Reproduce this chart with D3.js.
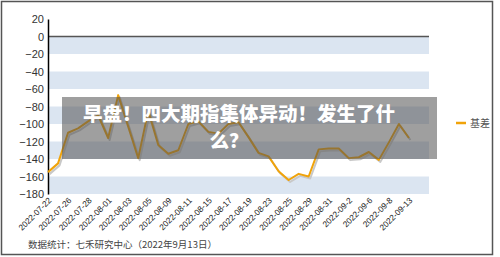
<!DOCTYPE html>
<html lang="zh">
<head>
<meta charset="UTF-8">
<title>基差</title>
<script src="https://d3js.org/d3.v7.min.js"></script>
<style>
  body { margin: 0; background: #fff; }
  svg { display: block; }
</style>
</head>
<body>
<div id="chart"></div>
<script>
// trading days, 2022-07-22 .. 2022-09-13
const dates = ["2022-07-22","2022-07-25","2022-07-26","2022-07-27","2022-07-28","2022-07-29",
  "2022-08-01","2022-08-02","2022-08-03","2022-08-04","2022-08-05","2022-08-08","2022-08-09",
  "2022-08-10","2022-08-11","2022-08-12","2022-08-15","2022-08-16","2022-08-17","2022-08-18",
  "2022-08-19","2022-08-22","2022-08-23","2022-08-24","2022-08-25","2022-08-26","2022-08-29",
  "2022-08-30","2022-08-31","2022-09-1","2022-09-2","2022-09-5","2022-09-6","2022-09-7",
  "2022-09-8","2022-09-9","2022-09-13"];
const basis = [-155,-145,-110,-105,-97,-90,-116,-67,-103,-139,-85,-124,-134,-130,-100,-97,
  -109,-111,-100,-98,-115,-133,-137,-154,-164,-157,-160,-129,-128,-128,-139,-138,-132,-141,
  -121,-100,-116];
const yTicks = [20,0,-20,-40,-60,-80,-100,-120,-140,-160,-180];
const title = ["早盘！四大期指集体异动！发生了什", "么？"];

const W = 500, H = 257;
const svg = d3.select("#chart").append("svg").attr("width", W).attr("height", H);

// outer frame
svg.append("rect").attr("x", 1.5).attr("y", 1.5).attr("width", 491).attr("height", 253)
   .attr("fill", "#fff").attr("stroke", "#555").attr("stroke-width", 1.5);

const x = d3.scaleLinear().domain([0, dates.length + 1]).range([48, 429]);
const y = d3.scaleLinear().domain([-180, 20]).range([194, 19]);

// alternating bands
for (let i = 0; i < yTicks.length - 1; i++) {
  const top = yTicks[i], bot = yTicks[i + 1];
  if (top <= 0 && (Math.abs(top) / 20) % 2 === 0) {
    svg.append("rect").attr("x", x(0)).attr("y", y(top))
       .attr("width", x.range()[1] - x(0)).attr("height", y(bot) - y(top))
       .attr("fill", "#dbe5f1");
  }
}
// zero line
svg.append("line").attr("x1", x(0)).attr("x2", x.range()[1])
   .attr("y1", y(0)).attr("y2", y(0)).attr("stroke", "#555").attr("stroke-width", 1.3);

// y axis
const yAxis = svg.append("g").attr("transform", `translate(${x(0)},0)`)
  .call(d3.axisLeft(y).tickValues(yTicks).tickSize(0).tickPadding(4));
yAxis.select(".domain").attr("stroke", "#000").attr("stroke-width", 1.5);
yAxis.selectAll("text").attr("font-family", "Liberation Sans, Arial, sans-serif")
  .attr("font-size", 11).attr("fill", "#333");

// x labels, every other category
svg.append("g").selectAll("text")
  .data(dates.map((d, i) => ({d, i})).filter(o => o.i % 2 === 0))
  .join("text")
  .attr("transform", o => `translate(${x(o.i) + 2},199) rotate(-45)`)
  .attr("text-anchor", "end")
  .attr("dy", "0.35em")
  .attr("font-family", "Liberation Sans, Arial, sans-serif")
  .attr("font-size", 8.3).attr("fill", "#222")
  .text(o => o.d);

// series with soft shadow
const line = d3.line().x((d, i) => x(i)).y(d => y(d));
svg.append("path").datum(basis).attr("d", line)
   .attr("transform", "translate(1.5,2)")
   .attr("fill", "none").attr("stroke", "#c8c8c8").attr("stroke-width", 2)
   .attr("stroke-linejoin", "round");
svg.append("path").datum(basis).attr("d", line)
   .attr("fill", "none").attr("stroke", "#f0a30a").attr("stroke-width", 2)
   .attr("stroke-linejoin", "round");

// legend
svg.append("line").attr("x1", 456).attr("x2", 466).attr("y1", 123).attr("y2", 123)
   .attr("stroke", "#f0a30a").attr("stroke-width", 2.5);
svg.append("text").attr("x", 470).attr("y", 127)
   .attr("font-family", "Noto Sans CJK SC, sans-serif").attr("font-size", 10)
   .attr("fill", "#555").text("基差");

// source caption
svg.append("text").attr("x", 28).attr("y", 248)
   .attr("font-family", "Noto Sans CJK SC, sans-serif").attr("font-size", 9.5)
   .attr("fill", "#444").text("数据统计：七禾研究中心（2022年9月13日）");

// headline banner overlay
svg.append("rect").attr("x", 62).attr("y", 97).attr("width", 375).attr("height", 62)
   .attr("fill", "rgb(80,80,80)").attr("fill-opacity", 0.55);
const tg = svg.append("g").attr("font-family", "Noto Sans CJK SC, sans-serif")
  .attr("font-weight", 900).attr("font-size", 19.5).attr("fill", "#fff")
  .attr("text-anchor", "middle");
tg.append("text").attr("x", 239).attr("y", 121).text(title[0]);
tg.append("text").attr("x", 229).attr("y", 148).text(title[1]);
</script>
</body>
</html>
